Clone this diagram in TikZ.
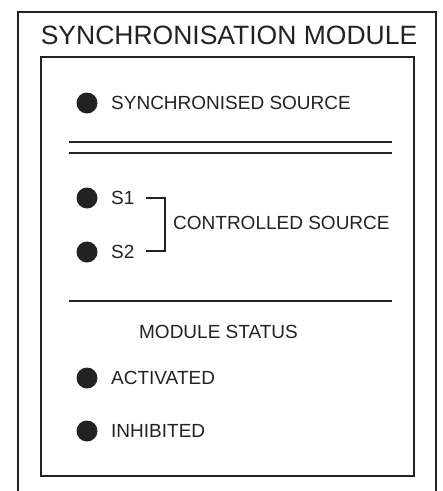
\documentclass[tikz,border=0pt]{standalone}
\usepackage{fontspec}
\setmainfont{Liberation Sans}
\definecolor{ink}{HTML}{222222}
\begin{document}
\begin{tikzpicture}[x=1pt,y=-1pt,
  frame/.style={draw=ink,line width=2pt},
  rule/.style={draw=ink,line width=1.8pt},
  led/.style={circle,fill=ink,inner sep=0pt,minimum size=21pt},
  lbl/.style={anchor=west,inner sep=0pt,text=ink,font=\fontsize{19}{22}\selectfont},
  ttl/.style={inner sep=0pt,text=ink,font=\fontsize{26.5}{30}\selectfont}]
\useasboundingbox (0,0) rectangle (443,491);
\draw[frame] (17.5,491) -- (17.5,12) -- (436,12) -- (436,491);
\draw[frame] (40.7,57) rectangle (414,476);
\node[ttl] (title) at (229,35) {SYNCHRONISATION MODULE};
\node[led] (d1) at (87,103) {};
\node[lbl] (t1) at (111,103) {SYNCHRONISED SOURCE};
\draw[rule] (69,142) coordinate (a1) -- (392,142) coordinate (a2);
\draw[rule] (69,153) coordinate (b1) -- (392,153) coordinate (b2);
\node[led] (d2) at (87,198) {};
\node[lbl] (s1) at (111,198) {S1};
\node[led] (d3) at (87,252) {};
\node[lbl] (s2) at (111,252) {S2};
\coordinate (k1) at (146,198);
\coordinate (k2) at (146,251);
\draw[ink,line width=1.8pt] (k1) -- (165,198) -- (165,251) -- (k2);
\node[lbl] (cs) at (173,223) {CONTROLLED SOURCE};
\draw[rule] (69,301) coordinate (c1) -- (392,301) coordinate (c2);
\node[lbl,anchor=center] (ms) at (218.5,332) {MODULE STATUS};
\node[led] (d4) at (87,378) {};
\node[lbl] (t4) at (111,378) {ACTIVATED};
\node[led] (d5) at (87,431) {};
\node[lbl] (t5) at (111,431) {INHIBITED};
\end{tikzpicture}
\end{document}
